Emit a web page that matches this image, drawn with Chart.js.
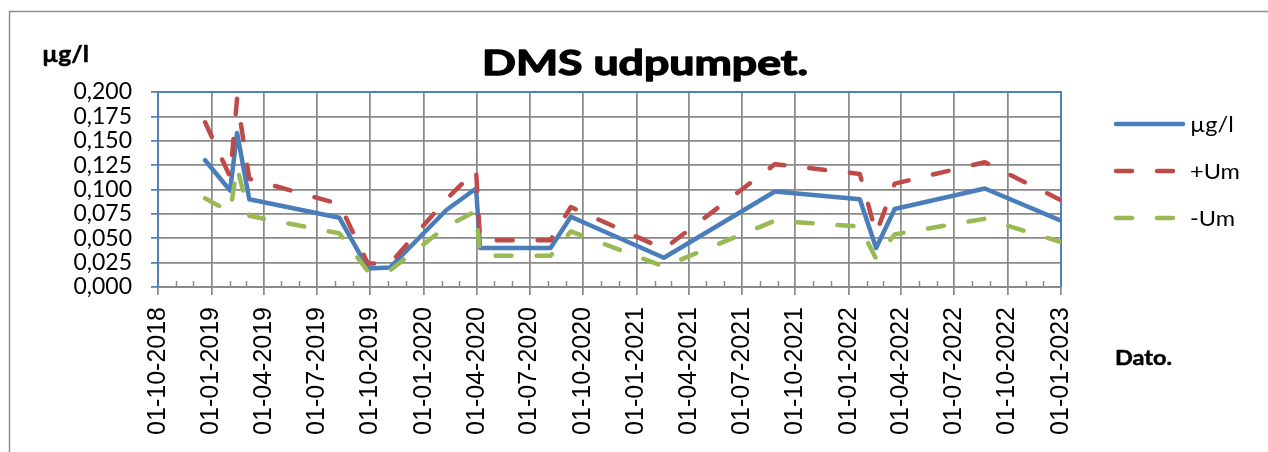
<!DOCTYPE html>
<html>
<head>
<meta charset="utf-8">
<script src="https://cdn.jsdelivr.net/npm/chart.js@4.4.1/dist/chart.umd.min.js"></script>
<style>
  html, body { margin: 0; padding: 0; background: #ffffff; }
</style>
</head>
<body>
<canvas id="myChart" width="1268" height="452"></canvas>
<script>
// sample dates and values
var sampleDates = ['2018-12-21', '2019-02-02', '2019-02-14', '2019-03-07', '2019-08-09',
                   '2019-09-27', '2019-11-04', '2020-02-09', '2020-03-31', '2020-04-07',
                   '2020-08-06', '2020-09-10', '2021-02-17', '2021-08-27', '2022-01-20',
                   '2022-02-17', '2022-03-21', '2022-08-23', '2023-01-01'];
var concentration = [0.130, 0.099, 0.158, 0.090, 0.071, 0.019, 0.020, 0.079, 0.101, 0.040,
                     0.040, 0.072, 0.030, 0.098, 0.090, 0.040, 0.080, 0.101, 0.068];
var upperUm = [0.169, 0.113, 0.193, 0.111, 0.085, 0.024, 0.024, 0.090, 0.120, 0.048,
               0.048, 0.082, 0.039, 0.126, 0.116, 0.055, 0.106, 0.128, 0.089];
var lowerUm = [0.091, 0.077, 0.123, 0.073, 0.055, 0.016, 0.017, 0.062, 0.078, 0.032,
               0.032, 0.057, 0.021, 0.068, 0.062, 0.029, 0.054, 0.070, 0.046];
var seriesLabels = ['µg/l', '+Um', '-Um'];
var quarterTicks = ['2018-10-01', '2019-01-01', '2019-04-01', '2019-07-01', '2019-10-01',
                    '2020-01-01', '2020-04-01', '2020-07-01', '2020-10-01', '2021-01-01',
                    '2021-04-01', '2021-07-01', '2021-10-01', '2022-01-01', '2022-04-01',
                    '2022-07-01', '2022-10-01', '2023-01-01'];

var gridGray = '#8a8a8a';
var axisBlue = '#4f81bd';

function dayNumber(s) {
    var p = s.split('-');
    return Date.UTC(+p[0], +p[1] - 1, +p[2]) / 86400000;
}
function pad2(n) { return (n < 10 ? '0' : '') + n; }
function formatDate(v) {
    var d = new Date(Math.round(v) * 86400000);
    return pad2(d.getUTCDate()) + '-' + pad2(d.getUTCMonth() + 1) + '-' + d.getUTCFullYear();
}
function toPoints(values) {
    var pts = [];
    for (var i = 0; i < values.length; i++) {
        pts.push({ x: dayNumber(sampleDates[i]), y: values[i] });
    }
    return pts;
}
// the original picture is stretched sideways, so text gets a horizontal scale
function wideText(ctx, text, x, y, font, stretch, heavy) {
    ctx.save();
    ctx.font = font;
    ctx.translate(x, y);
    ctx.scale(stretch, 1);
    ctx.fillText(text, 0, 0);
    if (heavy) {
        ctx.strokeStyle = ctx.fillStyle;
        ctx.lineWidth = heavy;
        ctx.lineJoin = 'round';
        ctx.strokeText(text, 0, 0);
    }
    ctx.restore();
}

var decorations = {
    id: 'decorations',
    beforeDatasetsDraw: function(chart) {
        var ctx = chart.ctx, a = chart.chartArea, xs = chart.scales.x;
        ctx.save();
        // monthly minor ticks inside the plot
        ctx.strokeStyle = gridGray;
        ctx.lineWidth = 1.5;
        var last = dayNumber(quarterTicks[quarterTicks.length - 1]);
        for (var m = 0; m < 60; m++) {
            var d = Date.UTC(2018, 9 + m, 1) / 86400000;
            if (d > last) break;
            if (m % 3 === 0) continue;
            var px = Math.round(xs.getPixelForValue(d)) + 0.5;
            ctx.beginPath();
            ctx.moveTo(px, a.bottom - 6);
            ctx.lineTo(px, a.bottom);
            ctx.stroke();
        }
        // blue plot area frame (top and right)
        ctx.strokeStyle = axisBlue;
        ctx.lineWidth = 2;
        ctx.beginPath();
        ctx.moveTo(a.left, a.top);
        ctx.lineTo(a.right, a.top);
        ctx.lineTo(a.right, a.bottom);
        ctx.stroke();
        ctx.restore();
    },
    afterDraw: function(chart) {
        var ctx = chart.ctx;
        ctx.save();
        // outer chart frame
        ctx.strokeStyle = '#8e8e8e';
        ctx.lineWidth = 1.5;
        ctx.strokeRect(9.5, 11.5, 1400, 600);

        ctx.fillStyle = '#000000';
        ctx.textBaseline = 'middle';
        ctx.textAlign = 'center';
        ctx.font = 'bold 35px Lato';
        var tw = ctx.measureText('DMS udpumpet.').width;
        wideText(ctx, 'DMS udpumpet.', 645, 64, 'bold 35px Lato', 326 / tw, 1.3);

        ctx.textAlign = 'left';
        wideText(ctx, 'µg/l', 42, 55, 'bold 22px Lato', 1.12, 0.5);
        wideText(ctx, 'Dato.', 1115, 358, 'bold 21px Lato', 1.12, 0.5);

        // legend
        var ds = chart.data.datasets;
        for (var i = 0; i < ds.length; i++) {
            var y = 124 + i * 47;
            ctx.save();
            ctx.strokeStyle = ds[i].borderColor;
            ctx.lineWidth = ds[i].borderWidth;
            ctx.lineCap = 'round';
            ctx.setLineDash(ds[i].borderDash || []);
            ctx.beginPath();
            ctx.moveTo(1116, y);
            ctx.lineTo(1183, y);
            ctx.stroke();
            ctx.restore();
            ctx.fillStyle = '#000000';
            wideText(ctx, ds[i].label, 1190, y + 1, '21px Lato', 1.12);
        }
        ctx.restore();
    }
};

var ctx = document.getElementById('myChart').getContext('2d');
var myChart = new Chart(ctx, {
    type: 'line',
    data: {
        datasets: [{
            label: seriesLabels[0],
            data: toPoints(concentration),
            borderColor: '#4a7ebb',
            borderWidth: 4.5,
            borderJoinStyle: 'round',
            borderCapStyle: 'round',
            order: 3
        }, {
            label: seriesLabels[1],
            data: toPoints(upperUm),
            borderColor: '#be4b48',
            borderWidth: 4.5,
            borderDash: [16, 25],
            borderJoinStyle: 'round',
            borderCapStyle: 'round',
            order: 2
        }, {
            label: seriesLabels[2],
            data: toPoints(lowerUm),
            borderColor: '#98b954',
            borderWidth: 4.5,
            borderDash: [16, 25],
            borderJoinStyle: 'round',
            borderCapStyle: 'round',
            order: 1
        }]
    },
    options: {
        responsive: false,
        animation: false,
        devicePixelRatio: 1,
        layout: { padding: { top: 92, right: 207, left: 0, bottom: 0 } },
        elements: { point: { radius: 0, hoverRadius: 0 }, line: { tension: 0 } },
        plugins: { legend: { display: false }, title: { display: false }, tooltip: { enabled: false } },
        scales: {
            x: {
                type: 'linear',
                min: dayNumber(quarterTicks[0]),
                max: dayNumber(quarterTicks[quarterTicks.length - 1]),
                afterBuildTicks: function(scale) {
                    scale.ticks = quarterTicks.map(function(s) { return { value: dayNumber(s) }; });
                },
                afterFit: function(scale) { scale.height = 165; },
                grid: { color: gridGray, tickColor: gridGray, lineWidth: 1.75, tickLength: 8 },
                border: { color: gridGray, width: 2 },
                ticks: {
                    autoSkip: false,
                    minRotation: 90,
                    maxRotation: 90,
                    padding: 12,
                    color: '#000000',
                    font: { family: 'Liberation Sans', size: 25 },
                    callback: function(value) { return formatDate(value); }
                }
            },
            y: {
                min: 0,
                max: 0.2,
                afterFit: function(scale) { scale.width = 158; },
                grid: { color: gridGray, tickColor: axisBlue, lineWidth: 1.75, tickLength: 7 },
                border: { color: axisBlue, width: 2 },
                ticks: {
                    autoSkip: false,
                    stepSize: 0.025,
                    padding: 19,
                    color: '#000000',
                    font: { family: 'Lato', size: 23 },
                    callback: function(value) { return value.toFixed(3).replace('.', ','); }
                }
            }
        }
    },
    plugins: [decorations]
});
</script>
</body>
</html>
